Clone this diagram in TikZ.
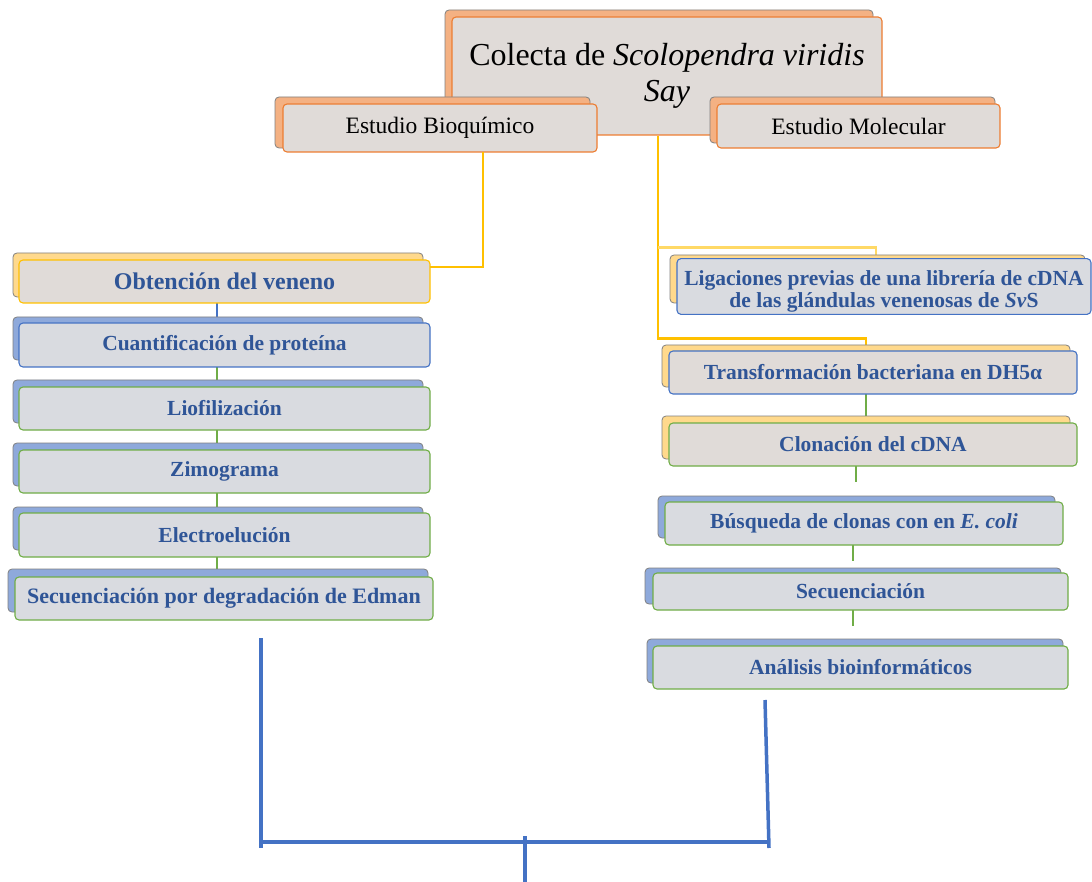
\documentclass[tikz,border=0pt]{standalone}
\usepackage{fontspec}
\setmainfont{Liberation Serif}
\definecolor{stepblue}{HTML}{2F5597}
\definecolor{bordorange}{HTML}{ED7D31}
\definecolor{bordyellow}{HTML}{FFC000}
\definecolor{bordblue}{HTML}{4472C4}
\definecolor{bordgreen}{HTML}{70AD47}
\definecolor{backorange}{HTML}{F4B183}
\definecolor{backyellow}{HTML}{FFD98C}
\definecolor{backblue}{HTML}{8EA9DB}
\definecolor{warmgray}{HTML}{E0DBD8}
\definecolor{coolgray}{HTML}{D9DBE0}
\definecolor{lightyellow}{HTML}{FFD966}
\definecolor{edgegray}{HTML}{808080}
\newcommand\steptextfont{\bfseries\color{stepblue}\fontsize{21.5}{22}\selectfont}
\tikzset{
  backcard/.style={rounded corners=4pt,draw=edgegray,line width=0.8pt},
  cardopts/.style={font=\steptextfont},
  frontcard/.style={rounded corners=4pt,line width=1.1pt,inner sep=2pt,align=center,cardopts},
  ylink/.style={draw=bordyellow,line width=2.4pt},
  lylink/.style={draw=lightyellow,line width=2.4pt},
  blink/.style={draw=bordblue,line width=2.4pt},
  glink/.style={draw=bordgreen,line width=2.4pt},
  bracket/.style={draw=bordblue,line width=3.5pt}
}
\newcommand\mycard[9]{%
  \fill[backcard,fill=#6] (#2,#3) rectangle (#4,#5);
  \def\cardname{#1}\def\fxa{#7}\def\fya{#8}\def\fxb{#9}\mycardb}
\newcommand\mycardb[4]{%
  \pgfmathsetmacro\cw{\fxb-\fxa}\pgfmathsetmacro\ch{#1-\fya}%
  \pgfmathsetmacro\cx{(\fxa+\fxb)/2}\pgfmathsetmacro\cy{(\fya+#1)/2}%
  \node[frontcard,draw=#2,fill=#3,minimum width=\cw pt,minimum height=\ch pt] (\cardname) at (\cx,\cy) {#4};}
\begin{document}
\begin{tikzpicture}[x=1pt,y=-1pt]
\useasboundingbox (0,0) rectangle (1092,882);
% title
\tikzset{cardopts/.style={font=\fontsize{32}{36}\selectfont}}
\mycard{col}{445}{10}{873}{126}{backorange}{452}{17}{882}{135}{bordorange}{warmgray}{Colecta de \textit{Scolopendra viridis}\\ \textit{Say}}
% right trunk and branch to Ligaciones
\draw[ylink] ([xshift=-9pt]col.south) -- ++(0,203) coordinate (rturn) -- (rturn -| 866,0) -- ++(0,8) coordinate (traend);
\draw[lylink] ([xshift=-9pt,yshift=-112pt]col.south) coordinate (lbr) -- (lbr -| 876,0) -- ++(0,10) coordinate (ligend);
\tikzset{cardopts/.style={font=\fontsize{23.5}{24}\selectfont}}
\mycard{bio}{275}{97}{590}{148}{backorange}{283}{104}{597}{152}{bordorange}{warmgray}{Estudio Bioquímico}
\mycard{mol}{710}{97}{995}{143}{backorange}{717}{104}{1000}{148}{bordorange}{warmgray}{Estudio Molecular}
% left column connectors (drawn below the cards)
\coordinate (lx) at (217,0);
\draw[ylink] (483,152) coordinate (bioout) |- (430,267) coordinate (obtin);
\draw[blink] (lx |- 0,300) -- (lx |- 0,320);
\draw[glink] (lx |- 0,364) -- (lx |- 0,383);
\draw[glink] (lx |- 0,427) -- (lx |- 0,446);
\draw[glink] (lx |- 0,490) -- (lx |- 0,510);
\draw[glink] (lx |- 0,554) -- (lx |- 0,572);
% left column
\tikzset{cardopts/.style={font=\bfseries\color{stepblue}\fontsize{24}{24}\selectfont}}
\mycard{obt}{13}{253}{423}{297}{backyellow}{19}{260}{430}{303}{bordyellow}{warmgray}{Obtención del veneno}
\tikzset{cardopts/.style={font=\steptextfont}}
\mycard{cua}{13}{317}{423}{360}{backblue}{19}{323}{430}{367}{bordblue}{coolgray}{Cuantificación de proteína}
\mycard{lio}{13}{380}{423}{423}{backblue}{19}{387}{430}{430}{bordgreen}{coolgray}{Liofilización}
\mycard{zim}{13}{443}{423}{486}{backblue}{19}{450}{430}{493}{bordgreen}{coolgray}{Zimograma}
\mycard{ele}{13}{507}{423}{550}{backblue}{19}{513}{430}{557}{bordgreen}{coolgray}{Electroelución}
\mycard{sec}{8}{569}{428}{612}{backblue}{15}{577}{433}{620}{bordgreen}{coolgray}{\fontsize{22}{22}\selectfont Secuenciación por degradación de Edman}
% right column connectors
\draw[glink] (866,390) -- (866,419);
\draw[glink] (856,463) -- (856,482) coordinate (cloend);
\draw[glink] (853,542) -- (853,561) coordinate (busend);
\draw[glink] (853,607) -- (853,626) coordinate (seqend);
% right column
\mycard{lig}{670}{255}{1085}{303}{backyellow}{677}{262}{1091}{311}{bordblue}{coolgray}{\rule{0pt}{25pt}Ligaciones previas de una librería de cDNA\\ de las glándulas venenosas de \textit{Sv}S}
\mycard{tra}{662}{345}{1070}{387}{backyellow}{669}{351}{1077}{394}{bordblue}{warmgray}{Transformación bacteriana en DH5α}
\mycard{clo}{662}{416}{1070}{459}{backyellow}{669}{423}{1077}{466}{bordgreen}{warmgray}{Clonación del cDNA}
\mycard{bus}{658}{496}{1055}{538}{backblue}{665}{502}{1063}{545}{bordgreen}{coolgray}{Búsqueda de clonas con en \textit{E. coli}}
\mycard{seq}{645}{568}{1061}{604}{backblue}{653}{573}{1068}{610}{bordgreen}{coolgray}{Secuenciación}
\mycard{ana}{647}{639}{1063}{683}{backblue}{653}{646}{1068}{689}{bordgreen}{coolgray}{Análisis bioinformáticos}
% bracket
\coordinate (bl) at (261,638);
\coordinate (br) at (765,700);
\draw[bracket] (bl) -- (261,848);
\draw[bracket] (br) -- (769,848);
\draw[bracket] (261,842) -- (768,842);
\draw[bracket] (525,836) -- (525,882);
\end{tikzpicture}
\end{document}
